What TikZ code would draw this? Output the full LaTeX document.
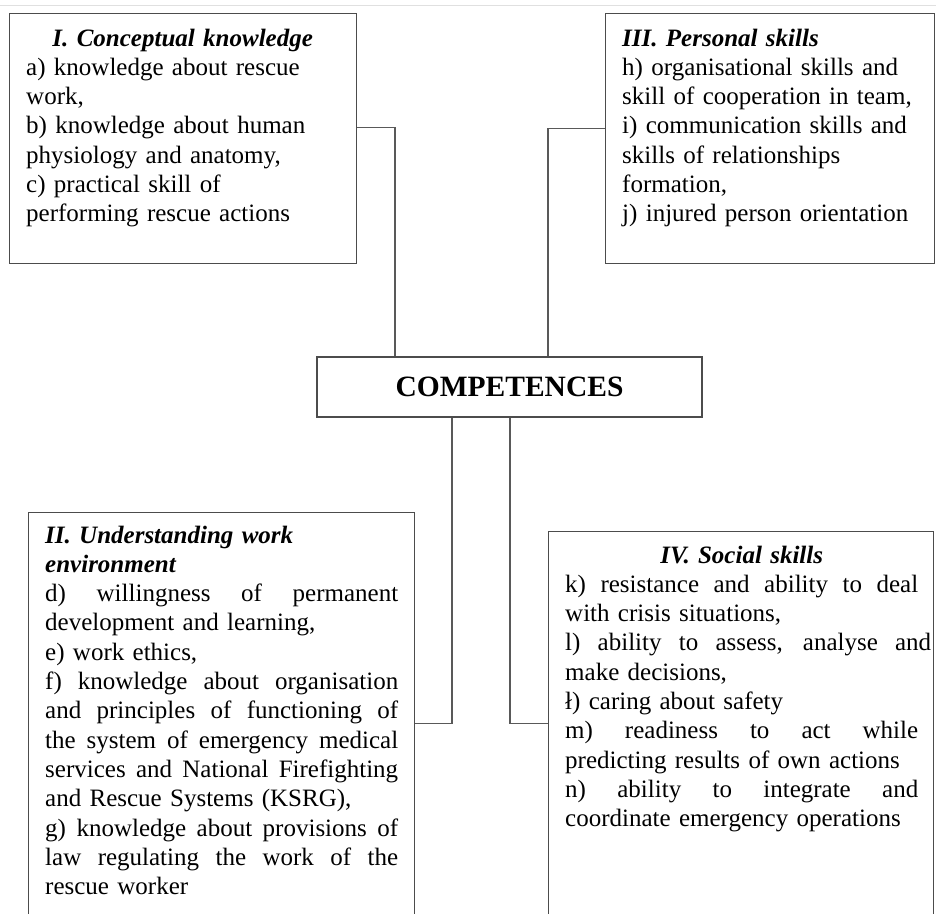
\documentclass[tikz,border=0pt]{standalone}
\usepackage{fontspec}
\setmainfont{Liberation Serif}
\usepackage{tikz}

\newcommand{\bodyfont}{\fontsize{25}{29.3}\selectfont}
\newcommand{\hd}[1]{{\bfseries\itshape #1}}
\newcommand{\jl}[2][\linewidth]{\makebox[#1][s]{\spaceskip=0pt\relax #2}}

\tikzset{
  frame/.style={draw=black!70, line width=1.3pt, rectangle, anchor=north west, inner sep=0pt},
  txt/.style={anchor=base west, inner sep=0pt, align=left, font=\bodyfont},
  link/.style={draw=black!65, line width=1.3pt},
}

\begin{document}
\begin{tikzpicture}[x=1pt, y=-1pt]
  \useasboundingbox (0,0) rectangle (936,913);
  \clip (0,0) rectangle (936,913);
  \draw [black!12, line width=1pt] (0,5) -- (936,5);

  \node [frame, minimum width=347pt, minimum height=250pt] (conc) at (9,13) {};
  \node [frame, minimum width=329pt, minimum height=250pt] (pers) at (605,13) {};
  \node [frame, minimum width=386pt, minimum height=422pt] (undr) at (28,512) {};
  \node [frame, minimum width=385pt, minimum height=384pt] (soc) at (548,531) {};
  \node [draw=black!70, line width=1.3pt, minimum width=385pt, minimum height=60pt,
         font=\fontsize{29.5}{34}\selectfont\bfseries] (comp) at (509.5,387) {COMPETENCES};

  \node [txt, text width=313pt] (concT) at ([shift={(17,33)}]conc.north west)
        {\makebox[\linewidth]{\hd{I. Conceptual knowledge}}\\
         a) knowledge about rescue\\ work,\\
         b) knowledge about human\\ physiology and anatomy,\\
         c) practical skill of\\ performing rescue actions};
  \node [txt, text width=300pt] (persT) at ([shift={(17,33)}]pers.north west)
        {\hd{III. Personal skills}\\
         h) organisational skills and\\ skill of cooperation in team,\\
         i) communication skills and\\ skills of relationships\\ formation,\\
         j) injured person orientation};
  \node [txt, text width=353pt] (undrT) at ([shift={(17,31)}]undr.north west)
        {\hd{II. Understanding work}\\ \hd{environment}\\
         \jl{d) willingness of permanent}\\ development and learning,\\
         e) work ethics,\\
         \jl{f) knowledge about organisation}\\ \jl{and principles of functioning of}\\
         \jl{the system of emergency medical}\\ \jl{services and National Firefighting}\\
         and Rescue Systems (KSRG),\\
         \jl{g) knowledge about provisions of}\\ \jl{law regulating the work of the}\\
         rescue worker};
  \node [txt, text width=353pt] (socT) at ([shift={(17,32)}]soc.north west)
        {\makebox[\linewidth]{\hd{IV. Social skills}}\\
         \jl{k) resistance and ability to deal}\\ with crisis situations,\\
         \jl[366pt]{l) ability to assess, analyse and}\\ make decisions,\\
         ł) caring about safety\\
         \jl{m) readiness to act while}\\ predicting results of own actions\\
         \jl{n) ability to integrate and}\\ coordinate emergency operations};

  \draw [link] ([yshift=11pt]conc.east) -| ([xshift=-114.5pt]comp.north);
  \draw [link] ([yshift=10pt]pers.west) -| ([xshift=38.5pt]comp.north);
  \draw [link] ([xshift=-57.5pt]comp.south) |- (undr.east);
  \draw [link] ([xshift=0.5pt]comp.south) |- (soc.west);
\end{tikzpicture}
\end{document}
